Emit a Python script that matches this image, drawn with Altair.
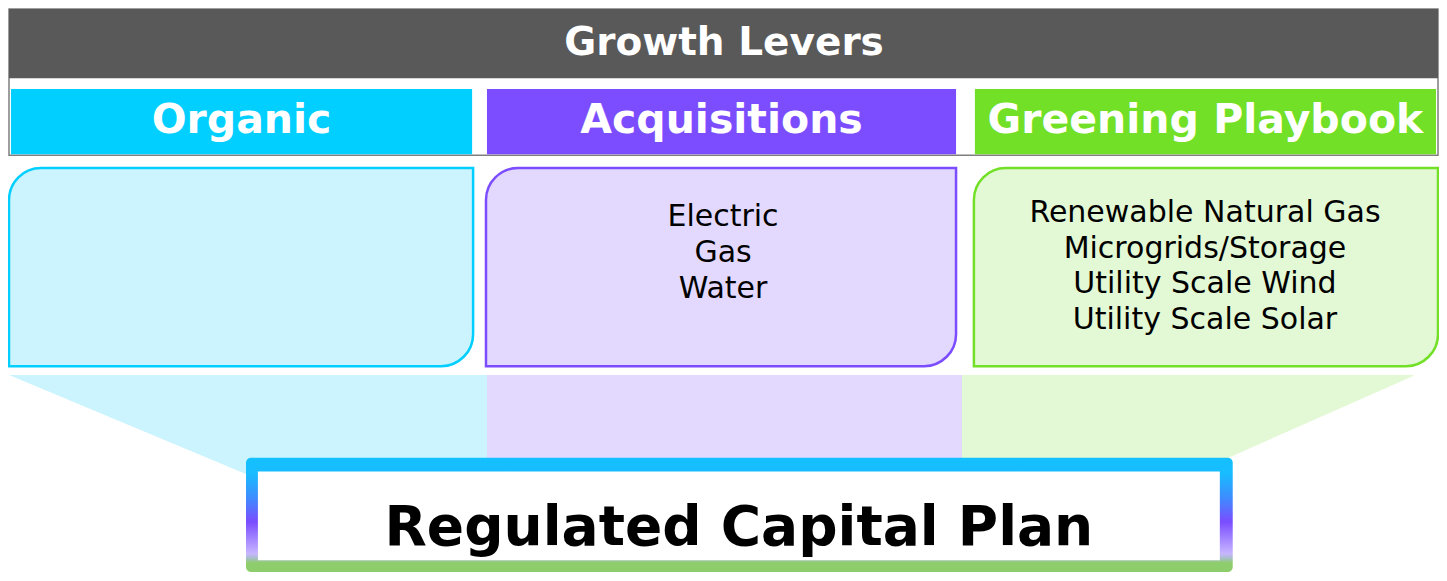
import altair as alt
import pandas as pd

# ---------------- data ----------------
title_text = ["Growth Levers"]
lever_names = ["Organic", "Acquisitions", "Greening Playbook"]
lever_colors = ["#00CFFF", "#7C4DFF", "#72E026"]
lever_light = ["#CCF4FE", "#E3D9FE", "#E3F8D4"]
lever_items = [[], ["Electric", "Gas", "Water"],
               ["Renewable Natural Gas", "Microgrids/Storage", "Utility Scale Wind", "Utility Scale Solar"]]
plan_text = ["Regulated Capital Plan"]

# layout (reference pixel coordinates)
X0, X1, Y0, Y1 = 3, 1446, 2, 581
frame = dict(x=4, x2=1445, y=3, y2=153)
title_bar = dict(x=4, x2=1445, y=3, y2=74)
head_x = [6, 486, 978]
head_x2 = [471, 959, 1443]
head_y, head_y2 = 85, 152
box_x = [4, 485, 977]
box_x2 = [472, 959, 1445]
box_y, box_y2 = 166, 369
text_cx = [238, 724, 1210]
text_top = [0, 216, 212]
text_step = [37, 37, 36.5]
funnel_x = [[4, 263, 486], [486, 965], [965, 1220, 1420]]
funnel_bot = [[378, 488, 488], [488, 488], [480, 469, 379]]
funnel_top = 378
plan_box = dict(x=243, x2=1238, y=463, y2=580)
plan_inner = dict(x=255, x2=1225, y=477, y2=568)

FONT = "DejaVu Sans"

xs = alt.Scale(domain=[X0, X1], nice=False, zero=False)
ys = alt.Scale(domain=[Y0, Y1], nice=False, zero=False, reverse=True)

def X(f="x"):
    return alt.X(f"{f}:Q", scale=xs, axis=None)

def Y(f="y"):
    return alt.Y(f"{f}:Q", scale=ys, axis=None)

def rect_layer(rows, **mark):
    df = pd.DataFrame(rows)
    enc = dict(x=X("x"), x2=alt.X2("x2"), y=Y("y"), y2=alt.Y2("y2"))
    if "fill" in df.columns:
        enc["fill"] = alt.Fill("fill:N", scale=None)
    if "stroke" in df.columns:
        enc["stroke"] = alt.Stroke("stroke:N", scale=None)
    return alt.Chart(df).mark_rect(**mark).encode(**enc)

layers = []

# funnel (drawn first, under everything)
for i in range(3):
    fdf = pd.DataFrame({"x": funnel_x[i], "y": [funnel_top] * len(funnel_x[i]), "y2": funnel_bot[i]})
    layers.append(alt.Chart(fdf).mark_area(interpolate="linear", color=lever_light[i], opacity=1,
                                           orient="vertical").encode(
        x=X(), y=alt.Y("y:Q", scale=ys, axis=None, stack=None), y2=alt.Y2("y2")))

# header frame + title bar
layers.append(rect_layer([dict(**frame, fill="#FFFFFF", stroke="#7F7F7F")], strokeWidth=1.5))
layers.append(rect_layer([dict(**title_bar, fill="#595959")]))
layers.append(alt.Chart(pd.DataFrame({"t": title_text, "x": [725], "y": [38]})).mark_text(
    font=FONT, fontWeight="bold", fontSize=39, color="white", baseline="middle", align="center"
).encode(x=X(), y=Y(), text="t:N"))

# lever headers
layers.append(rect_layer([dict(x=head_x[i], x2=head_x2[i], y=head_y, y2=head_y2, fill=lever_colors[i])
                          for i in range(3)]))
layers.append(alt.Chart(pd.DataFrame({"t": lever_names,
                                      "x": [(head_x[i] + head_x2[i]) / 2 for i in range(3)],
                                      "y": [118] * 3})).mark_text(
    font=FONT, fontWeight="bold", fontSize=41, color="white", baseline="middle", align="center"
).encode(x=X(), y=Y(), text="t:N"))

# rounded content boxes
layers.append(rect_layer([dict(x=box_x[i], x2=box_x2[i], y=box_y, y2=box_y2,
                               fill=lever_light[i], stroke=lever_colors[i]) for i in range(3)],
                         strokeWidth=2.5, cornerRadiusTopLeft=32, cornerRadiusBottomRight=32))

rows = []
for i, items in enumerate(lever_items):
    for j, t in enumerate(items):
        rows.append(dict(t=t, x=text_cx[i], y=text_top[i] + j * text_step[i]))
layers.append(alt.Chart(pd.DataFrame(rows)).mark_text(
    font=FONT, fontSize=30, color="black", baseline="middle", align="center"
).encode(x=X(), y=Y(), text="t:N"))

# bottom plan box with gradient border
grad = alt.Gradient(gradient="linear", x1=0, x2=0, y1=0, y2=1, stops=[
    alt.GradientStop(color="#14C0FF", offset=0.0),
    alt.GradientStop(color="#18BCFF", offset=0.14),
    alt.GradientStop(color="#3E8CFF", offset=0.35),
    alt.GradientStop(color="#7A4DFF", offset=0.56),
    alt.GradientStop(color="#C8B6FF", offset=0.84),
    alt.GradientStop(color="#A8BFC8", offset=0.88),
    alt.GradientStop(color="#8ECD6C", offset=0.92),
    alt.GradientStop(color="#8ECD6C", offset=1.0),
])
layers.append(alt.Chart(pd.DataFrame([plan_box])).mark_rect(fill=grad, cornerRadius=5).encode(
    x=X("x"), x2=alt.X2("x2"), y=Y("y"), y2=alt.Y2("y2")))
layers.append(rect_layer([dict(**plan_inner, fill="#FFFFFF")]))
layers.append(alt.Chart(pd.DataFrame({"t": plan_text, "x": [740], "y": [535]})).mark_text(
    font=FONT, fontWeight="bold", fontSize=55, color="black", baseline="middle", align="center"
).encode(x=X(), y=Y(), text="t:N"))

chart = alt.layer(*layers).properties(
    width=1431, height=565, padding=0, autosize="none", background="white"
).configure_view(stroke=None)

chart.save("out.html", embed_options={"renderer": "svg", "actions": False})
